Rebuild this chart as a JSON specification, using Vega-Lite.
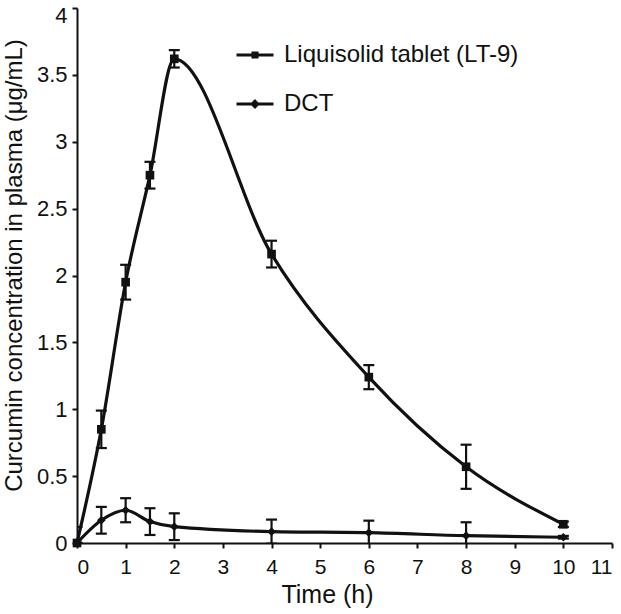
{
  "$schema": "https://vega.github.io/schema/vega-lite/v6.json",
  "width": 535,
  "height": 535,
  "autosize": "none",
  "padding": {"left": 77, "top": 8, "right": 9, "bottom": 71},
  "background": "white",
  "config": {
    "view": {"stroke": null},
    "font": "Liberation Sans",
    "axis": {
      "domainColor": "#111", "domainWidth": 2, "tickColor": "#111", "tickWidth": 2, "tickSize": 5,
      "grid": false, "labelFont": "Liberation Sans", "labelFontSize": 21, "labelColor": "#111",
      "titleFont": "Liberation Sans", "titleFontSize": 24, "titleFontWeight": "normal", "titleColor": "#111"
    },
    "legend": {"labelFont": "Liberation Sans", "labelFontSize": 24, "labelColor": "#111", "labelLimit": 0}
  },
  "data": {
    "values": [
      {"series": "Liquisolid tablet (LT-9)", "t": 0, "c": 0, "err": 0.12},
      {"series": "Liquisolid tablet (LT-9)", "t": 0.5, "c": 0.85, "err": 0.14},
      {"series": "Liquisolid tablet (LT-9)", "t": 1, "c": 1.95, "err": 0.13},
      {"series": "Liquisolid tablet (LT-9)", "t": 1.5, "c": 2.75, "err": 0.1},
      {"series": "Liquisolid tablet (LT-9)", "t": 2, "c": 3.62, "err": 0.065},
      {"series": "Liquisolid tablet (LT-9)", "t": 4, "c": 2.16, "err": 0.1},
      {"series": "Liquisolid tablet (LT-9)", "t": 6, "c": 1.24, "err": 0.09},
      {"series": "Liquisolid tablet (LT-9)", "t": 8, "c": 0.57, "err": 0.165},
      {"series": "Liquisolid tablet (LT-9)", "t": 10, "c": 0.14, "err": 0.02},
      {"series": "DCT", "t": 0, "c": 0, "err": 0},
      {"series": "DCT", "t": 0.5, "c": 0.17, "err": 0.1},
      {"series": "DCT", "t": 1, "c": 0.245, "err": 0.09},
      {"series": "DCT", "t": 1.5, "c": 0.16, "err": 0.1},
      {"series": "DCT", "t": 2, "c": 0.122, "err": 0.1},
      {"series": "DCT", "t": 4, "c": 0.085, "err": 0.09},
      {"series": "DCT", "t": 6, "c": 0.077, "err": 0.09},
      {"series": "DCT", "t": 8, "c": 0.055, "err": 0.1},
      {"series": "DCT", "t": 10, "c": 0.043, "err": 0.01}
    ]
  },
  "encoding": {
    "x": {
      "field": "t", "type": "quantitative",
      "scale": {"domain": [0, 11], "nice": false},
      "axis": {"values": [0,1,2,3,4,5,6,7,8,9,10,11], "title": "Time (h)", "labelPadding": 8, "titleX": 250, "titleY": 59, "titleBaseline": "alphabetic", "titleAnchor": "middle", "titleFontSize": 25}
    },
    "y": {
      "field": "c", "type": "quantitative",
      "scale": {"domain": [0, 4], "nice": false},
      "axis": {
        "values": [0,0.5,1,1.5,2,2.5,3,3.5,4], "format": "~g",
        "title": "Curcumin concentration in plasma (μg/mL)", "labelPadding": 5, "labelFontSize": 22,
        "labelBaseline": {"condition": {"test": "datum.value == 4", "value": "top"}, "value": "middle"},
        "labelOffset": {"condition": {"test": "datum.value == 4", "value": -3}, "value": 0},
        "titleX": -56, "titleY": 257, "titleAngle": -90, "titleBaseline": "alphabetic", "titleAlign": "center"
      }
    }
  },
  "layer": [
    {
      "mark": {"type": "line", "interpolate": "monotone", "color": "#111", "strokeWidth": 3.2},
      "encoding": {"detail": {"field": "series"}}
    },
    {
      "mark": {"type": "errorbar", "clip": true, "color": "#111", "thickness": 2.2, "rule": {"opacity": 1, "color": "#111"}, "ticks": {"size": 11, "thickness": 2.2, "color": "#111", "opacity": 1}},
      "encoding": {"yError": {"field": "err"}, "detail": {"field": "series"}}
    },
    {
      "mark": {"type": "point", "filled": true, "color": "#111", "opacity": 1, "size": 75},
      "encoding": {
        "shape": {"field": "series", "type": "nominal", "scale": {"domain": ["Liquisolid tablet (LT-9)", "DCT"], "range": ["square", "diamond"]}, "legend": null}
      }
    },
    {
      "mark": {"type": "point", "filled": true, "color": "#111", "opacity": 0, "strokeWidth": 3},
      "encoding": {
        "color": {"field": "series", "type": "nominal", "scale": {"domain": ["Liquisolid tablet (LT-9)", "DCT"], "range": ["#111", "#111"]}, "legend": null},
        "shape": {
          "field": "series", "type": "nominal",
          "scale": {"domain": ["Liquisolid tablet (LT-9)", "DCT"], "range": ["M-1,0H1M-0.11,-0.11H0.11V0.11H-0.11Z", "M-1,0H1M0,-0.15L0.15,0L0,0.15L-0.15,0Z"]},
          "legend": {
            "title": null, "orient": "none", "legendX": 158, "legendY": 27, "padding": 0,
            "symbolSize": 1369, "symbolOpacity": 1, "symbolStrokeWidth": 3, "symbolStrokeColor": "#111", "symbolFillColor": "#111",
            "labelOffset": 9, "rowPadding": 17, "labelLimit": 0
          }
        }
      }
    }
  ],
  "resolve": {"scale": {"shape": "independent"}, "legend": {"shape": "independent"}}
}
